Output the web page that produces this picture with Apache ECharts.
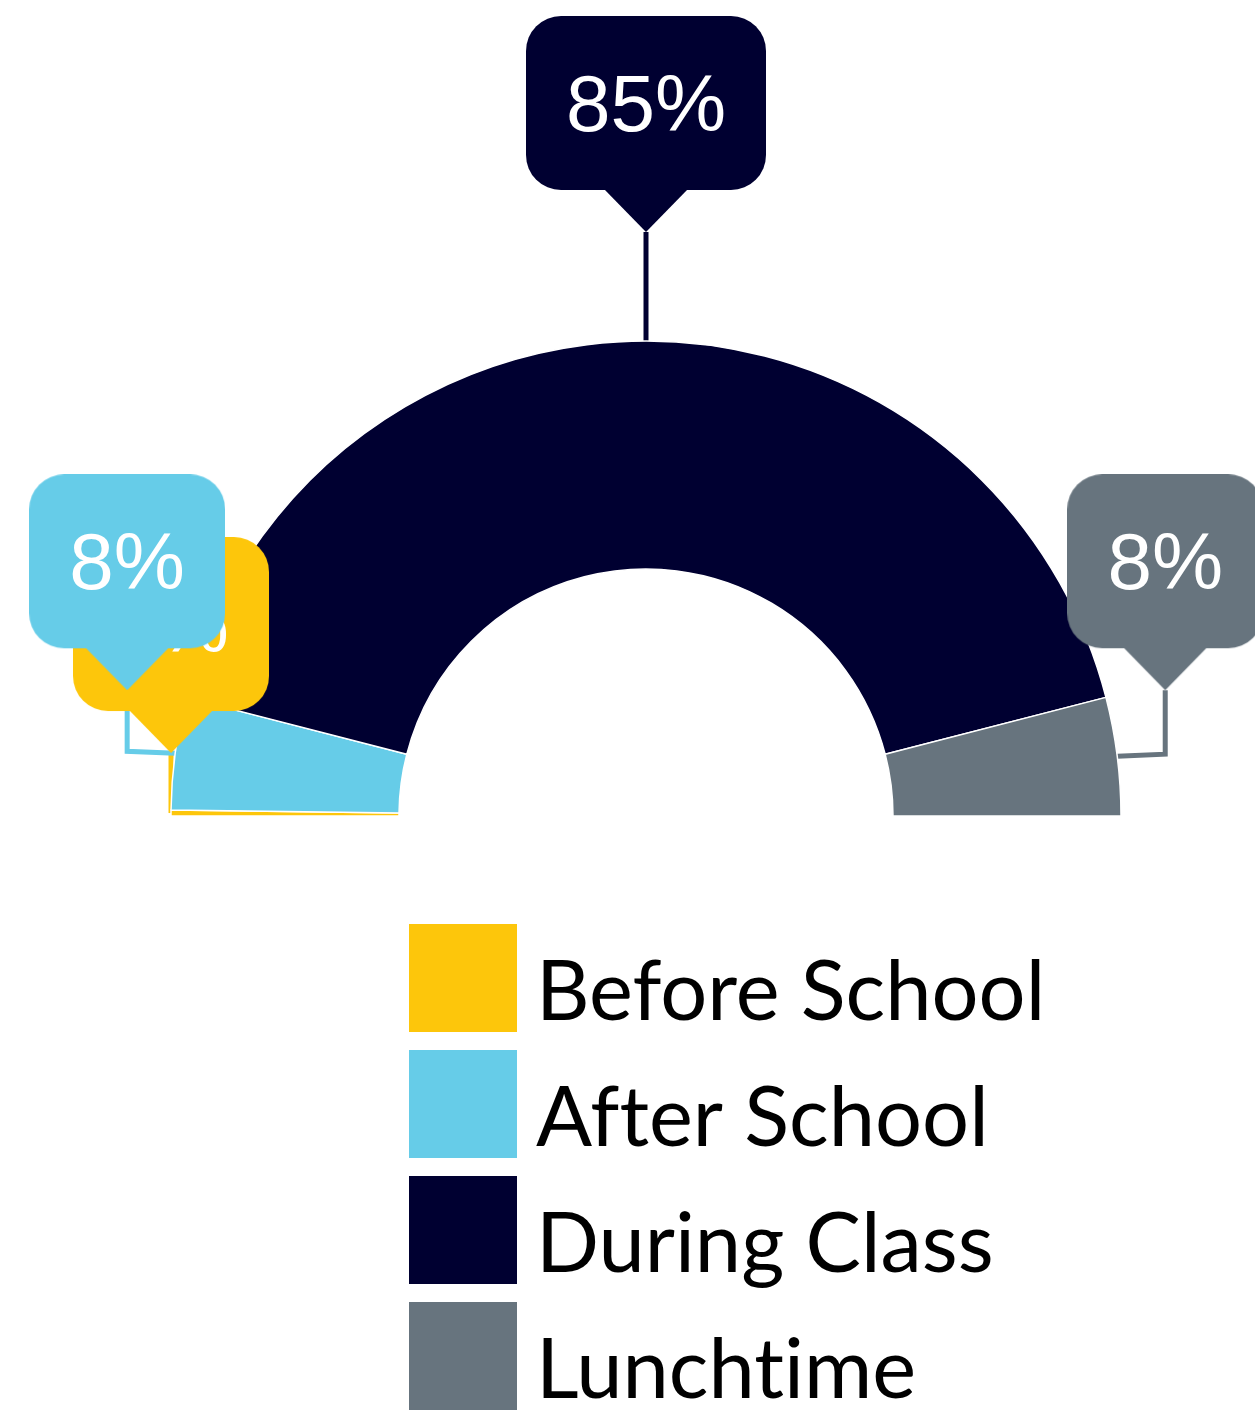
<!DOCTYPE html>
<html>
<head>
<meta charset="utf-8">
<style>
  html, body { margin: 0; padding: 0; background: #ffffff; }
  #chart { width: 1255px; height: 1412px; }
</style>
<script src="https://cdn.jsdelivr.net/npm/echarts@6/dist/echarts.min.js"></script>
</head>
<body>
<div id="chart"></div>
<script>
// ---- data ----
const categories = ['Before School', 'After School', 'During Class', 'Lunchtime'];
const values = [0.4, 7.7, 84.6, 8.1];

// ---- style ----
const colors = ['#FDC60B', '#66CCE8', '#000031', '#67747E'];
// callout pointer tip offset from the slice's label anchor (style only)
const calloutOffsets = [[0, -60], [-48, -63], [0, -109], [48, -66]];
const LABEL_FONT = '"Liberation Sans", Arial, sans-serif';
const LABEL_SIZE = 80;
const BOX_H = 174, TRI_H = 42, RADIUS = 35, PAD_X = 40, TEXT_SHIFT = 6;
// legend swatch: 108px square at the top of a taller item box, so the label sits lower
const SWATCH = 108, SWATCH_DROP = 31;
const swatchIcon = 'path://M0,0L' + SWATCH + ',0L' + SWATCH + ',' + SWATCH + 'L0,' + SWATCH +
  'ZM0,' + (SWATCH + SWATCH_DROP) + 'L0.01,' + (SWATCH + SWATCH_DROP) + 'Z';

function labelText(v) { return Math.round(v) + '%'; }

const measureCtx = document.createElement('canvas').getContext('2d');
measureCtx.font = LABEL_SIZE + 'px ' + LABEL_FONT;

function makeCallout(color, w) {
  const c = document.createElement('canvas');
  c.width = w; c.height = BOX_H + TRI_H;
  const g = c.getContext('2d');
  g.fillStyle = color;
  g.beginPath();
  g.moveTo(RADIUS, 0);
  g.lineTo(w - RADIUS, 0);
  g.arcTo(w, 0, w, RADIUS, RADIUS);
  g.lineTo(w, BOX_H - RADIUS);
  g.arcTo(w, BOX_H, w - RADIUS, BOX_H, RADIUS);
  g.lineTo(RADIUS, BOX_H);
  g.arcTo(0, BOX_H, 0, BOX_H - RADIUS, RADIUS);
  g.lineTo(0, RADIUS);
  g.arcTo(0, 0, RADIUS, 0, RADIUS);
  g.closePath();
  g.fill();
  g.beginPath();
  g.moveTo(w / 2 - TRI_H, BOX_H - 1);
  g.lineTo(w / 2, BOX_H + TRI_H);
  g.lineTo(w / 2 + TRI_H, BOX_H - 1);
  g.closePath();
  g.fill();
  return c;
}

const rich = {};
values.forEach(function (v, i) {
  const w = Math.round(measureCtx.measureText(labelText(v)).width + 2 * PAD_X);
  rich['c' + i] = {
    width: w,
    height: BOX_H - 2 * TEXT_SHIFT,
    padding: [2 * TEXT_SHIFT, 0, TRI_H, 0],
    align: 'center',
    verticalAlign: 'middle',
    color: '#ffffff',
    fontSize: LABEL_SIZE,
    fontFamily: LABEL_FONT,
    backgroundColor: { image: makeCallout(colors[i], w) }
  };
});

const seriesData = categories.map(function (name, i) {
  return { name: name, value: values[i], itemStyle: { color: colors[i] } };
});

const chart = echarts.init(document.getElementById('chart'), null, { renderer: 'canvas' });
chart.setOption({
  backgroundColor: '#ffffff',
  animation: false,
  legend: {
    orient: 'vertical',
    left: 409,
    top: 924,
    width: 800,
    height: 700,
    padding: 0,
    itemWidth: SWATCH,
    itemHeight: SWATCH + SWATCH_DROP,
    itemGap: 126 - (SWATCH + SWATCH_DROP),
    icon: swatchIcon,
    itemStyle: { borderWidth: 0 },
    selectedMode: false,
    data: categories,
    // zero-width non-joiners keep Lato from forming ft / ti ligatures (as in the original)
    formatter: function (name) {
      return name.replace(/f(?=t)/g, 'f\u200C').replace(/t(?=i)/g, 't\u200C');
    },
    textStyle: {
      fontFamily: 'Lato',
      fontSize: 83,
      color: '#000000',
      padding: [0, 0, 0, 14]
    }
  },
  series: [{
    type: 'pie',
    center: [646, 816],
    radius: [247, 475],
    startAngle: 180,
    endAngle: 0,
    clockwise: true,
    avoidLabelOverlap: false,
    silent: true,
    itemStyle: { borderColor: '#ffffff', borderWidth: 1.5 },
    label: {
      show: true,
      position: 'outside',
      formatter: function (p) { return '{c' + p.dataIndex + '|' + labelText(p.value) + '}'; },
      rich: rich
    },
    labelLine: {
      show: true,
      length: 20,
      length2: 20,
      lineStyle: { width: 5 }
    },
    labelLayout: function (p) {
      const pts = p.labelLinePoints;
      if (!pts || !pts[0]) return {};
      const a = pts[0];
      const off = calloutOffsets[p.dataIndex];
      const tip = [a[0] + off[0], a[1] + off[1]];
      const line = off[0] === 0 ? [[a[0], a[1]], tip] : [[a[0], a[1]], [tip[0], a[1] - 2], tip];
      return { x: tip[0], y: tip[1], align: 'center', verticalAlign: 'bottom', labelLinePoints: line };
    },
    data: seriesData
  }]
});
</script>
</body>
</html>
